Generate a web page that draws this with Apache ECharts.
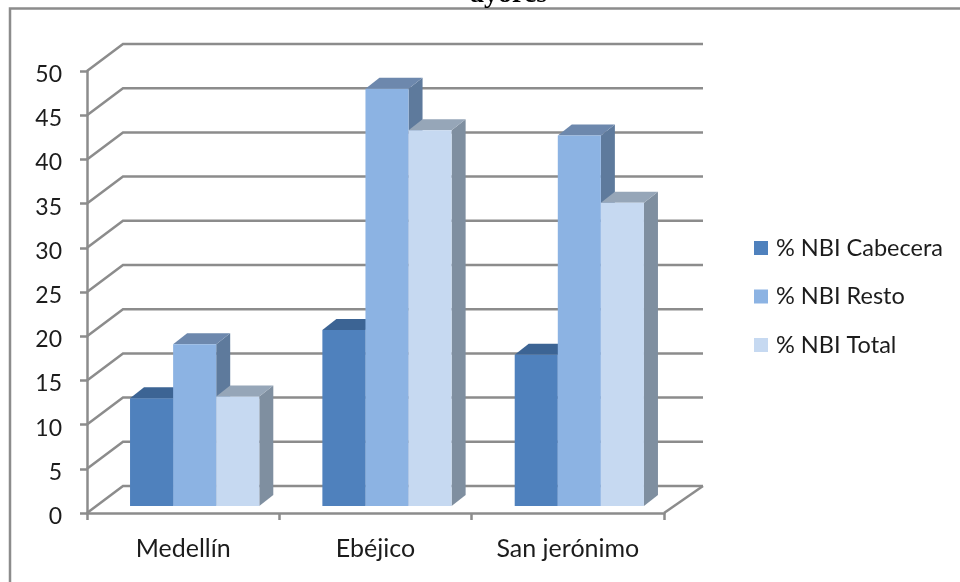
<!DOCTYPE html>
<html><head><meta charset="utf-8">
<style>html,body{margin:0;padding:0;background:#fff}#c{width:960px;height:582px}</style>
<script src="https://cdn.jsdelivr.net/npm/echarts@6/dist/echarts.min.js"></script>
</head><body><div id="c"></div>
<script>
const categories = ['Medellín', 'Ebéjico', 'San jerónimo'];
const cabecera = [12.2, 19.9, 17.1];
const resto = [18.3, 47.2, 41.9];
const total = [12.4, 42.5, 34.3];
const yTicks = [0, 5, 10, 15, 20, 25, 30, 35, 40, 45, 50];

const FONT = 'Lato';
const GRID = '#8c8c8c';
const TEXT = '#1c1c1c';
const WALL_DX = 36, WALL_DY = -27, WALL_DX_R = 39;
const BAR_W = 0.224, BAR_OX = 11.5, BAR_OY = -7, DEP_X = 14, DEP_Y = -11;

function wallItem(params, api) {
  const cs = params.coordSys;
  const y = api.coord([0, api.value(0)])[1];
  const x0 = cs.x, x1 = cs.x + cs.width;
  const line = (pts) => ({
    type: 'polyline', shape: { points: pts },
    style: { stroke: GRID, lineWidth: 2.5, fill: null }
  });
  const back = y + WALL_DY;
  const children = [line([[x0, y], [x0 + WALL_DX, back], [x1 + WALL_DX_R, back]])];
  if (api.value(0) === 0) children.push(line([[x1, y], [x1 + WALL_DX_R, back]]));
  return { type: 'group', children };
}

function barItem(slot, front, top, side) {
  return function (params, api) {
    const cat = api.value(0);
    const base = api.coord([cat, 0]);
    const tip = api.coord([cat, api.value(1)]);
    const w = api.size([1, 0])[0] * BAR_W;
    const xl = base[0] + BAR_OX + (slot - 1.5) * w;
    const xr = xl + w;
    const yb = base[1] + BAR_OY, yt = tip[1] + BAR_OY;
    const poly = (pts, fill) => ({ type: 'polygon', shape: { points: pts }, style: { fill } });
    return {
      type: 'group',
      children: [
        poly([[xr, yb], [xr + DEP_X, yb + DEP_Y], [xr + DEP_X, yt + DEP_Y], [xr, yt]], side),
        poly([[xl, yt], [xl + DEP_X, yt + DEP_Y], [xr + DEP_X, yt + DEP_Y], [xr, yt]], top),
        poly([[xl, yb], [xr, yb], [xr, yt], [xl, yt]], front)
      ]
    };
  };
}

function barSeries(name, values, slot, front, top, side) {
  return {
    type: 'custom', name, clip: false, z: 3 + slot,
    renderItem: barItem(slot, front, top, side),
    itemStyle: { color: front },
    encode: { x: 0, y: 1 },
    data: values.map((v, i) => [i, v])
  };
}

const chart = echarts.init(document.getElementById('c'), null, { renderer: 'canvas' });
chart.setOption({
  animation: false,
  backgroundColor: '#fff',
  title: {
    text: 'ayores', left: 465, top: -24,
    textStyle: { fontFamily: 'Liberation Serif', fontWeight: 'bold', fontSize: 28, color: '#000' }
  },
  graphic: [
    { type: 'polyline', shape: { points: [[10, 582], [10, 8.5], [960, 8.5]] },
      style: { stroke: '#8c8c8c', lineWidth: 2.5, fill: null }, silent: true }
  ],
  grid: { left: 87, top: 71, width: 577, height: 442, containLabel: false },
  legend: {
    orient: 'vertical', left: 749, top: 231, icon: 'rect',
    itemWidth: 14, itemHeight: 14, itemGap: 24.5,
    data: ['% NBI Cabecera', '% NBI Resto', '% NBI Total'],
    textStyle: { fontFamily: FONT, fontSize: 23.5, lineHeight: 24, color: TEXT, padding: [0, 0, 0, 3] },
    selectedMode: false
  },
  xAxis: {
    type: 'category', data: categories, boundaryGap: true,
    axisLine: { lineStyle: { color: GRID, width: 2.5 } },
    axisTick: { show: true, length: 7, lineStyle: { color: GRID, width: 2.5 } },
    axisLabel: { fontFamily: FONT, fontSize: 25, color: TEXT, margin: 23 },
    splitLine: { show: false }
  },
  yAxis: {
    type: 'value', min: 0, max: 50, interval: 5,
    axisLine: { show: true, lineStyle: { color: GRID, width: 2.5 } },
    axisTick: { show: true, length: 7, lineStyle: { color: GRID, width: 2.5 } },
    axisLabel: { fontFamily: FONT, fontSize: 23, color: TEXT, margin: 25, verticalAlign: 'top', lineHeight: 7 },
    splitLine: { show: false }
  },
  series: [
    { type: 'custom', name: 'walls', clip: false, z: 1, silent: true,
      renderItem: wallItem, encode: { y: 0 }, data: yTicks.map(v => [v]) },
    barSeries('% NBI Cabecera', cabecera, 0, '#4f81bd', '#3c6494', '#3c6494'),
    barSeries('% NBI Resto', resto, 1, '#8cb3e3', '#6d88ad', '#5e7a9c'),
    barSeries('% NBI Total', total, 2, '#c6d9f1', '#96a6b8', '#7f8fa0')
  ]
});
</script></body></html>
